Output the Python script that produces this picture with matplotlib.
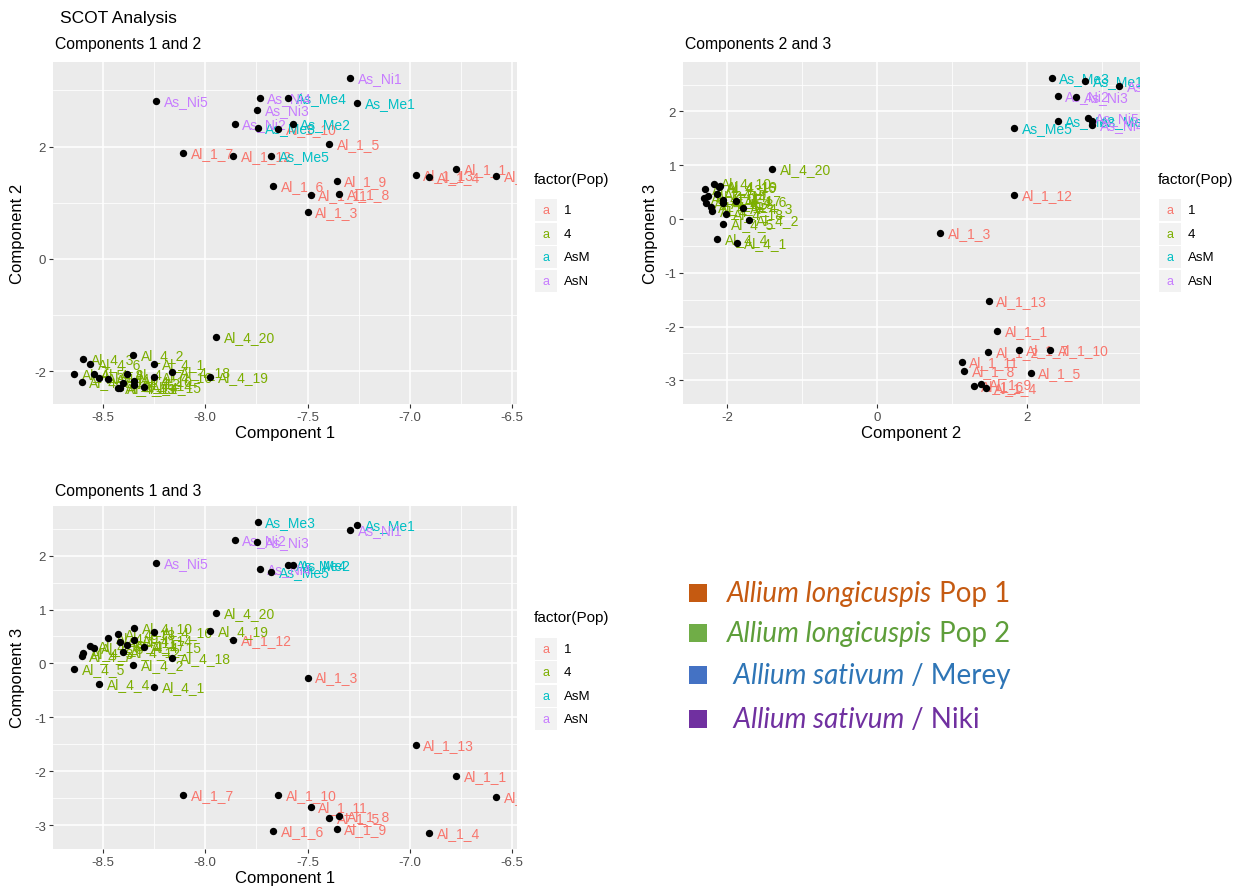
import matplotlib
matplotlib.use("Agg")
import matplotlib.pyplot as plt
from matplotlib.patches import Rectangle
from matplotlib.transforms import ScaledTranslation
from matplotlib.ticker import FixedLocator, AutoMinorLocator

plt.rcParams['font.family'] = ['Liberation Sans', 'DejaVu Sans']
plt.rcParams['axes.unicode_minus'] = False

# ---------------- data ----------------
names = ["Al_1_1", "Al_1_2", "Al_1_3", "Al_1_4", "Al_1_5", "Al_1_6", "Al_1_7",
         "Al_1_8", "Al_1_9", "Al_1_10", "Al_1_11", "Al_1_12", "Al_1_13",
         "Al_4_1", "Al_4_2", "Al_4_3", "Al_4_4", "Al_4_5", "Al_4_6", "Al_4_7",
         "Al_4_8", "Al_4_9", "Al_4_10", "Al_4_11", "Al_4_12", "Al_4_13",
         "Al_4_14", "Al_4_15", "Al_4_16", "Al_4_17", "Al_4_18", "Al_4_19", "Al_4_20",
         "As_Me1", "As_Me2", "As_Me3", "As_Me4", "As_Me5",
         "As_Ni1", "As_Ni2", "As_Ni3", "As_Ni4", "As_Ni5"]
pop = ["1"] * 13 + ["4"] * 20 + ["AsM"] * 5 + ["AsN"] * 5
comp1 = [-6.774, -6.580, -7.500, -6.905, -7.394, -7.667, -8.106,
         -7.347, -7.358, -7.643, -7.485, -7.862, -6.972,
         -8.250, -8.350, -8.597, -8.517, -8.640, -8.563, -8.603,
         -8.545, -8.472, -8.345, -8.417, -8.403, -8.428,
         -8.345, -8.300, -8.250, -8.380, -8.162, -7.975, -7.945,
         -7.258, -7.573, -7.744, -7.594, -7.677,
         -7.293, -7.856, -7.746, -7.734, -8.238]
comp2 = [1.60, 1.48, 0.84, 1.46, 2.05, 1.29, 1.89,
         1.16, 1.39, 2.31, 1.13, 1.83, 1.49,
         -1.87, -1.71, -1.79, -2.13, -2.05, -1.88, -2.20,
         -2.05, -2.14, -2.18, -2.31, -2.22, -2.30,
         -2.25, -2.28, -2.11, -2.05, -2.02, -2.10, -1.40,
         2.78, 2.41, 2.33, 2.87, 1.83,
         3.23, 2.41, 2.66, 2.87, 2.81]
comp3 = [-2.08, -2.47, -0.26, -3.15, -2.87, -3.10, -2.44,
         -2.83, -3.07, -2.43, -2.66, 0.44, -1.52,
         -0.44, -0.02, 0.20, -0.38, -0.10, 0.33, 0.14,
         0.29, 0.47, 0.66, 0.39, 0.22, 0.55,
         0.43, 0.30, 0.59, 0.35, 0.10, 0.61, 0.93,
         2.56, 1.82, 2.63, 1.82, 1.69,
         2.48, 2.28, 2.26, 1.75, 1.87]

pop_levels = ["1", "4", "AsM", "AsN"]
pop_colors = {"1": "#F8766D", "4": "#7CAE00", "AsM": "#00BFC4", "AsN": "#C77CFF"}

species_labels = [("Allium longicuspis", " Pop 1"),
                  ("Allium longicuspis", " Pop 2"),
                  (" Allium sativum", " / Merey"),
                  (" Allium sativum", " / Niki")]
species_square = ["#C55A11", "#70AD47", "#4472C4", "#7030A0"]
species_text = ["#C55A11", "#5E9E3A", "#2E75B6", "#7030A0"]

# ---------------- figure ----------------
W, H = 1249, 887
fig = plt.figure(figsize=(W / 100, H / 100), dpi=100)
fig.patch.set_facecolor("white")


def px_axes(l, t, r, b):
    return fig.add_axes([l / W, 1 - b / H, (r - l) / W, (b - t) / H])


def fx(x):
    return x / W


def fy(y):
    return 1 - y / H


def panel(ax, xs, ys, xticks, yticks, xfmt, yfmt):
    ax.set_facecolor("#EBEBEB")
    for s in ax.spines.values():
        s.set_visible(False)
    ax.set_axisbelow(True)
    ax.xaxis.set_major_locator(FixedLocator(xticks))
    ax.yaxis.set_major_locator(FixedLocator(yticks))
    ax.xaxis.set_minor_locator(AutoMinorLocator(2))
    ax.yaxis.set_minor_locator(AutoMinorLocator(2))
    ax.grid(which="major", color="white", lw=1.1)
    ax.grid(which="minor", color="white", lw=0.55)
    ax.tick_params(which="major", length=3, width=0.8, color="#333333",
                   labelcolor="#4D4D4D", labelsize=9.5, pad=2)
    ax.tick_params(which="minor", length=0)
    ax.set_xticklabels([xfmt.format(v) for v in xticks])
    ax.set_yticklabels([yfmt.format(v) for v in yticks])
    off = ScaledTranslation(5.5 / 72, 0, fig.dpi_scale_trans)
    for i, n in enumerate(names):
        ax.text(xs[i], ys[i], n, color=pop_colors[pop[i]], fontsize=10,
                ha="left", va="center", transform=ax.transData + off,
                clip_on=True, zorder=2)
    ax.scatter(xs, ys, s=28, color="black", zorder=3, linewidths=0)
    ax.margins(0.05)


def legend(x0, ytitle, ykeys):
    fig.text(fx(x0), fy(ytitle), "factor(Pop)", fontsize=11, ha="left",
             va="center", color="black")
    for lev, yk in zip(pop_levels, ykeys):
        fig.patches.append(Rectangle((fx(x0 + 1), fy(yk + 11)), 22 / W, 22 / H,
                                     transform=fig.transFigure,
                                     facecolor="#F2F2F2", edgecolor="none"))
        fig.text(fx(x0 + 12), fy(yk), "a", color=pop_colors[lev], fontsize=9,
                 ha="center", va="center")
        fig.text(fx(x0 + 30), fy(yk), lev, color="black", fontsize=9.5,
                 ha="left", va="center")


# Panel 1: components 1 and 2
ax1 = px_axes(53, 63, 517, 405)
panel(ax1, comp1, comp2, [-8.5, -8.0, -7.5, -7.0, -6.5], [-2, 0, 2],
      "{:.1f}", "{:d}")
# Panel 2: components 2 and 3
ax2 = px_axes(683, 63, 1140, 405)
panel(ax2, comp2, comp3, [-2, 0, 2], [-3, -2, -1, 0, 1, 2], "{:d}", "{:d}")
# Panel 3: components 1 and 3
ax3 = px_axes(53, 507, 517, 850)
panel(ax3, comp1, comp3, [-8.5, -8.0, -7.5, -7.0, -6.5], [-3, -2, -1, 0, 1, 2],
      "{:.1f}", "{:d}")

# titles & axis titles
fig.text(fx(60), fy(19), "SCOT Analysis", fontsize=12.5, ha="left", va="center")
fig.text(fx(55), fy(45), "Components 1 and 2", fontsize=11.3, ha="left", va="center")
fig.text(fx(685), fy(45), "Components 2 and 3", fontsize=11.3, ha="left", va="center")
fig.text(fx(55), fy(492), "Components 1 and 3", fontsize=11.3, ha="left", va="center")

fig.text(fx(285), fy(434), "Component 1", fontsize=12, ha="center", va="center")
fig.text(fx(18), fy(234), "Component 2", fontsize=12, ha="center", va="center", rotation=90)
fig.text(fx(911), fy(434), "Component 2", fontsize=12, ha="center", va="center")
fig.text(fx(650), fy(234), "Component 3", fontsize=12, ha="center", va="center", rotation=90)
fig.text(fx(285), fy(879), "Component 1", fontsize=12, ha="center", va="center")
fig.text(fx(18), fy(678), "Component 3", fontsize=12, ha="center", va="center", rotation=90)

legend(534, 180, [211, 235, 258, 282])
legend(1158, 180, [211, 235, 258, 282])
legend(534, 618, [650, 673, 697, 720])

# custom species legend
rows_y = [594, 634, 676, 720]
fig.canvas.draw()
renderer = fig.canvas.get_renderer()
for (ital, rest), sq, tc, yy in zip(species_labels, species_square, species_text, rows_y):
    fig.patches.append(Rectangle((fx(689), fy(yy + 9)), 18 / W, 18 / H,
                                 transform=fig.transFigure, facecolor=sq,
                                 edgecolor="none"))
    t1 = fig.text(fx(727), fy(yy), ital, fontsize=20, style="italic",
                  color=tc, ha="left", va="center", family="Lato")
    bb = t1.get_window_extent(renderer=renderer)
    fig.text(bb.x1 / W, fy(yy), rest, fontsize=20, color=tc, ha="left",
             va="center", family="Lato")

fig.savefig("out.png", dpi=100, facecolor="white")
